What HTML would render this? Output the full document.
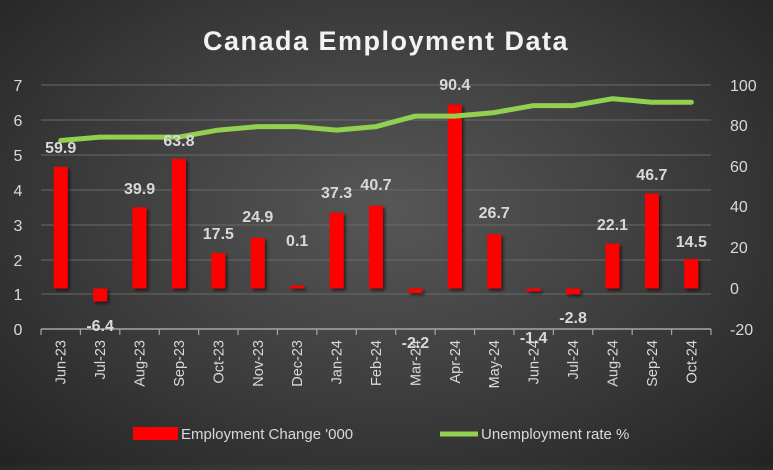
<!DOCTYPE html>
<html><head><style>
body{margin:0;width:773px;height:465px;overflow:hidden;background:radial-gradient(ellipse at 50% 45%,#575757 0%,#3e3e3e 50%,#232323 100%);font-family:"Liberation Sans",sans-serif;}
</style></head><body>
<svg width="773" height="465" xmlns="http://www.w3.org/2000/svg" font-family="Liberation Sans, sans-serif">
<defs><filter id="sh" x="-50%" y="-50%" width="200%" height="200%"><feDropShadow dx="2" dy="2" stdDeviation="1.5" flood-color="#000" flood-opacity="0.6"/></filter></defs>
<text x="386" y="50" text-anchor="middle" font-size="27" font-weight="bold" fill="#f2f2f2" letter-spacing="1.5">Canada Employment Data</text>
<g stroke="#6a6a6a" stroke-width="1">
<line x1="41" x2="711" y1="85" y2="85"/><line x1="41" x2="711" y1="120" y2="120"/><line x1="41" x2="711" y1="155" y2="155"/><line x1="41" x2="711" y1="190" y2="190"/><line x1="41" x2="711" y1="225" y2="225"/><line x1="41" x2="711" y1="260" y2="260"/><line x1="41" x2="711" y1="294" y2="294"/>
</g>
<g stroke="#a6a6a6" stroke-width="1.5"><line x1="41" x2="711" y1="329" y2="329"/></g>
<g id="ticks" stroke="#a6a6a6" stroke-width="1.2"></g>
<g font-size="16" fill="#d9d9d9">
<text x="18" y="91" text-anchor="middle">7</text><text x="18" y="126" text-anchor="middle">6</text><text x="18" y="161" text-anchor="middle">5</text><text x="18" y="196" text-anchor="middle">4</text><text x="18" y="231" text-anchor="middle">3</text><text x="18" y="266" text-anchor="middle">2</text><text x="18" y="300" text-anchor="middle">1</text><text x="18" y="335" text-anchor="middle">0</text>
<text x="730" y="91">100</text><text x="730" y="131">80</text><text x="730" y="172">60</text><text x="730" y="212">40</text><text x="730" y="253">20</text><text x="730" y="294">0</text><text x="730" y="335">-20</text>
</g>
<g id="bars" fill="#ff0000" filter="url(#sh)"></g>
<polyline id="line" fill="none" stroke="#92d050" stroke-width="5" stroke-linejoin="round" stroke-linecap="round"/>
<g id="lbl" font-size="16" font-weight="bold" fill="#d9d9d9" text-anchor="middle"></g>
<g id="xl" font-size="14.5" fill="#d9d9d9"></g>
<rect x="133" y="427" width="45" height="13" fill="#ff0000"/>
<text x="181" y="439" font-size="15" fill="#d9d9d9">Employment Change '000</text>
<line x1="440" x2="478" y1="434" y2="434" stroke="#92d050" stroke-width="5"/>
<text x="481" y="439" font-size="15" fill="#d9d9d9">Unemployment rate %</text>
</svg>
<script>
const ns="http://www.w3.org/2000/svg";
const m=["Jun-23","Jul-23","Aug-23","Sep-23","Oct-23","Nov-23","Dec-23","Jan-24","Feb-24","Mar-24","Apr-24","May-24","Jun-24","Jul-24","Aug-24","Sep-24","Oct-24"];
const v=[59.9,-6.4,39.9,63.8,17.5,24.9,0.1,37.3,40.7,-2.2,90.4,26.7,-1.4,-2.8,22.1,46.7,14.5];
const ly=[147,325,188,140,233,216,240,192,184,342,84,212,337,317,224,174,241];
const u=[5.4,5.5,5.5,5.5,5.7,5.8,5.8,5.7,5.8,6.1,6.1,6.2,6.4,6.4,6.6,6.5,6.5];
const step=670/17,x0=41,b0=288.5,s=2.033;
function el(t,a,p,txt){const e=document.createElementNS(ns,t);for(const k in a)e.setAttribute(k,a[k]);if(txt)e.textContent=txt;document.getElementById(p).appendChild(e);}
let pts=[];
for(let i=0;i<17;i++){const cx=x0+step*(i+0.5);
const h=Math.max(Math.abs(v[i])*s,3);
el("rect",{x:cx-7,y:v[i]>=0?b0-h:b0,width:14,height:h},"bars");
el("text",{x:cx,y:ly[i]+6},"lbl",v[i].toFixed(1));
pts.push(cx.toFixed(1)+","+(329-34.9*u[i]).toFixed(1));
el("text",{x:0,y:0,transform:`translate(${cx+5},340) rotate(-90)`,"text-anchor":"end"},"xl",m[i]);
}
for(let i=0;i<=17;i++){const x=x0+step*i;el("line",{x1:x,x2:x,y1:329,y2:335},"ticks");}
document.getElementById("line").setAttribute("points",pts.join(" "));
</script>
</body></html>
